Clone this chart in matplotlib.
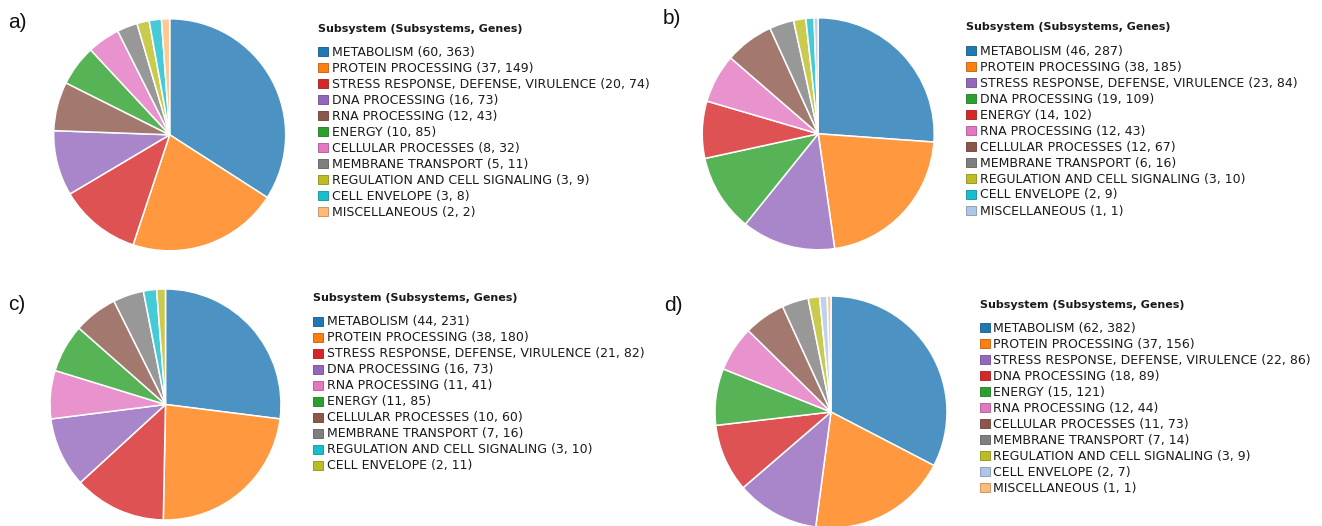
import matplotlib
matplotlib.use("Agg")
import matplotlib.pyplot as plt
from matplotlib.patches import Rectangle
from matplotlib.colors import to_rgba, to_rgb

W, H = 1322, 526
DPI = 100

BLUE, ORANGE, GREEN, RED, PURPLE = "#1f77b4", "#ff7f0e", "#2ca02c", "#d62728", "#9467bd"
BROWN, PINK, GREY, OLIVE, CYAN = "#8c564b", "#e377c2", "#7f7f7f", "#bcbd22", "#17becf"
LIGHT_BLUE, PEACH = "#aec7e8", "#ffbb78"

# ---- panel a ----
a_categories = ["METABOLISM", "PROTEIN PROCESSING", "STRESS RESPONSE, DEFENSE, VIRULENCE",
                "DNA PROCESSING", "RNA PROCESSING", "ENERGY", "CELLULAR PROCESSES",
                "MEMBRANE TRANSPORT", "REGULATION AND CELL SIGNALING", "CELL ENVELOPE",
                "MISCELLANEOUS"]
a_subsystems = [60, 37, 20, 16, 12, 10, 8, 5, 3, 3, 2]
a_genes = [363, 149, 74, 73, 43, 85, 32, 11, 9, 8, 2]
a_colors = [BLUE, ORANGE, RED, PURPLE, BROWN, GREEN, PINK, GREY, OLIVE, CYAN, PEACH]

# ---- panel b ----
b_categories = ["METABOLISM", "PROTEIN PROCESSING", "STRESS RESPONSE, DEFENSE, VIRULENCE",
                "DNA PROCESSING", "ENERGY", "RNA PROCESSING", "CELLULAR PROCESSES",
                "MEMBRANE TRANSPORT", "REGULATION AND CELL SIGNALING", "CELL ENVELOPE",
                "MISCELLANEOUS"]
b_subsystems = [46, 38, 23, 19, 14, 12, 12, 6, 3, 2, 1]
b_genes = [287, 185, 84, 109, 102, 43, 67, 16, 10, 9, 1]
b_colors = [BLUE, ORANGE, PURPLE, GREEN, RED, PINK, BROWN, GREY, OLIVE, CYAN, LIGHT_BLUE]

# ---- panel c ----
c_categories = ["METABOLISM", "PROTEIN PROCESSING", "STRESS RESPONSE, DEFENSE, VIRULENCE",
                "DNA PROCESSING", "RNA PROCESSING", "ENERGY", "CELLULAR PROCESSES",
                "MEMBRANE TRANSPORT", "REGULATION AND CELL SIGNALING", "CELL ENVELOPE"]
c_subsystems = [44, 38, 21, 16, 11, 11, 10, 7, 3, 2]
c_genes = [231, 180, 82, 73, 41, 85, 60, 16, 10, 11]
c_colors = [BLUE, ORANGE, RED, PURPLE, PINK, GREEN, BROWN, GREY, CYAN, OLIVE]

# ---- panel d ----
d_categories = ["METABOLISM", "PROTEIN PROCESSING", "STRESS RESPONSE, DEFENSE, VIRULENCE",
                "DNA PROCESSING", "ENERGY", "RNA PROCESSING", "CELLULAR PROCESSES",
                "MEMBRANE TRANSPORT", "REGULATION AND CELL SIGNALING", "CELL ENVELOPE",
                "MISCELLANEOUS"]
d_subsystems = [62, 37, 22, 18, 15, 12, 11, 7, 3, 2, 1]
d_genes = [382, 156, 86, 89, 121, 44, 73, 14, 9, 7, 1]
d_colors = [BLUE, ORANGE, PURPLE, RED, GREEN, PINK, BROWN, GREY, OLIVE, LIGHT_BLUE, PEACH]

panel_labels = ["a)", "b)", "c)", "d)"]
legend_title = "Subsystem (Subsystems, Genes)"

TEXT_FONT = ["DejaVu Sans"]
LEGEND_SIZE = 9.0
TITLE_SIZE = 8.0
TEXT_COLOR = "#1a1a1a"

fig = plt.figure(figsize=(W / DPI, H / DPI), dpi=DPI)
fig.patch.set_facecolor("white")


def fx(x):
    return x / W


def fy(y):
    return 1 - y / H


def draw_pie(cx, cy, r, values, colors):
    ax = fig.add_axes([fx(cx - r), fy(cy + r), 2 * r / W, 2 * r / H])
    faces = [to_rgba(c, 0.8) for c in colors]
    ax.pie(values, colors=faces, startangle=90, counterclock=False, radius=1.0,
           wedgeprops=dict(edgecolor="white", linewidth=1.1))
    ax.set_xlim(-1.0, 1.0)
    ax.set_ylim(-1.0, 1.0)
    ax.set_aspect("equal")
    ax.set_axis_off()
    return ax


def draw_legend(x_swatch, x_text, y_first, categories, subsystems, genes, colors,
                step=16.0):
    fig.text(fx(x_swatch), fy(y_first - 24), legend_title, fontsize=TITLE_SIZE,
             fontweight="bold", family=TEXT_FONT, color=TEXT_COLOR,
             ha="left", va="baseline")
    for i, (cat, s, g, c) in enumerate(zip(categories, subsystems, genes, colors)):
        yb = y_first + i * step
        edge = tuple(v * 0.75 for v in to_rgb(c))
        fig.add_artist(Rectangle((fx(x_swatch), fy(yb + 0.5)), 10 / W, 9 / H,
                                 transform=fig.transFigure, facecolor=c,
                                 edgecolor=edge, linewidth=0.6))
        fig.text(fx(x_text), fy(yb), f"{cat} ({s}, {g})", fontsize=LEGEND_SIZE,
                 family=TEXT_FONT, color=TEXT_COLOR, ha="left", va="baseline")


panels = [
    dict(pie=(169.7, 134.8, 116), leg=(318.3, 331.7, 55.7), lab=(8.3, 27.7),
         data=(a_categories, a_subsystems, a_genes, a_colors)),
    dict(pie=(818.2, 133.8, 116), leg=(966.3, 980.0, 54.5), lab=(662.7, 24.5),
         data=(b_categories, b_subsystems, b_genes, b_colors)),
    dict(pie=(165.5, 404.5, 115.5), leg=(313.3, 327.3, 325.0), lab=(8.3, 309.5),
         data=(c_categories, c_subsystems, c_genes, c_colors)),
    dict(pie=(831.0, 412.0, 116), leg=(980.0, 993.3, 331.7), lab=(664.0, 310.7),
         data=(d_categories, d_subsystems, d_genes, d_colors)),
]

for label, p in zip(panel_labels, panels):
    cats, subs, genes, cols = p["data"]
    cx, cy, r = p["pie"]
    draw_pie(cx, cy, r, subs, cols)
    xs, xt, y0 = p["leg"]
    draw_legend(xs, xt, y0, cats, subs, genes, cols)
    lx, ly = p["lab"]
    fig.text(fx(lx), fy(ly), label, fontsize=15, family=["Liberation Sans", "DejaVu Sans"],
             color="#111111", ha="left", va="baseline")

fig.savefig("out.png", dpi=DPI, facecolor="white")
